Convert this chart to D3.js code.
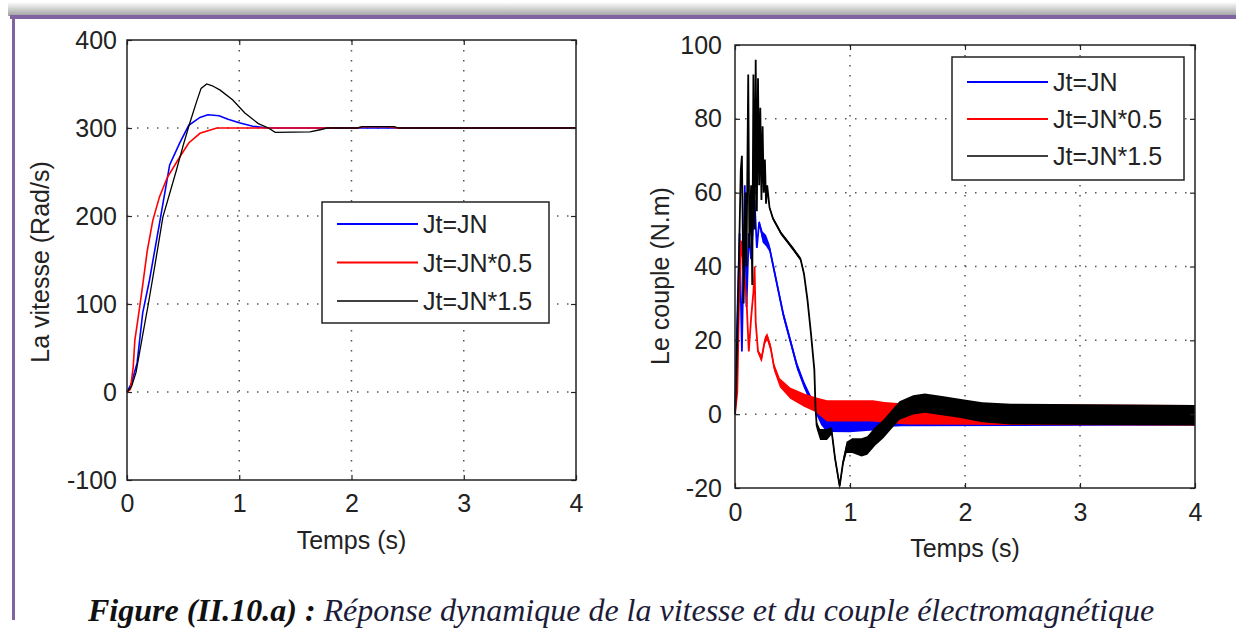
<!DOCTYPE html>
<html>
<head>
<meta charset="utf-8">
<script src="https://cdn.jsdelivr.net/npm/d3@7"></script>
<style>
  body { margin: 0; background: #fff; }
  svg { display: block; }
  text { font-family: "Liberation Sans", Arial, sans-serif; fill: #222; }
</style>
</head>
<body>
<div id="chart"></div>
<script>
// time axis shared by both panels
const timeTicks = [0, 1, 2, 3, 4];
const speedTicks = [-100, 0, 100, 200, 300, 400];
const torqueTicks = [-20, 0, 20, 40, 60, 80, 100];
const legendLabels = ["Jt=JN", "Jt=JN*0.5", "Jt=JN*1.5"];
const seriesColors = ["#0000ff", "#ff0000", "#000000"];

// speed (rad/s) vs time (s) - [t, v]
const speedJN = [[0,0],[0.04,10],[0.09,33],[0.14,90],[0.2,127],[0.29,192],[0.38,258],[0.47,283],
  [0.55,303],[0.65,312],[0.72,315],[0.82,314],[0.9,310],[1.0,306],[1.12,302],[1.25,300],[4,300]];
const speedJN05 = [[0,0],[0.03,3],[0.055,28],[0.07,59],[0.1,85],[0.13,112],[0.18,160],[0.23,195],
  [0.29,222],[0.36,244],[0.47,267],[0.55,283],[0.65,294],[0.8,300],[2.05,300],[2.1,301.5],
  [2.35,301.5],[2.4,300],[4,300]];
const speedJN15 = [[0,0],[0.04,6],[0.08,22],[0.14,65],[0.19,100],[0.25,145],[0.32,199],[0.44,252],
  [0.5,280],[0.56,306],[0.62,330],[0.66,345],[0.71,350],[0.76,348],[0.83,343],[0.94,332],
  [1.05,317],[1.17,305],[1.26,300],[1.32,295],[1.63,295.5],[1.72,298],[1.78,300],[2.05,300],
  [2.1,301.5],[2.38,301.5],[2.42,300],[4,300]];

// torque (N.m) vs time (s) - [t, mean, ripple half-band]
const torqueJN = [[0,0,0],[0.01,15,0],[0.04,49,0],[0.06,17,0],[0.085,62,0],[0.1,29,0],[0.12,49,0],
  [0.14,42,0],[0.17,58,0],[0.19,45,0],[0.21,52,0.5],[0.24,48,1.5],[0.27,47,1.5],[0.3,45,1],
  [0.36,36,1],[0.42,27,1],[0.48,20,1],[0.54,13,1],[0.6,8,1],[0.65,4.6,1],[0.7,1.5,1.2],
  [0.75,-1.5,1.5],[0.8,-3,1.8],[1.0,-3,1.9],[1.2,-2.6,1.8],[1.3,-1.5,2],[1.45,-0.5,2.8],[4,-0.3,2.8]];
const torqueJN05 = [[0,0,0],[0.02,6,0],[0.035,30,0],[0.055,47,0],[0.08,38,0],[0.1,31,0],[0.12,17,0],
  [0.14,26,0],[0.16,33,0],[0.17,40,0],[0.18,25,0],[0.2,17,0.5],[0.23,15,1],[0.26,20,1],[0.28,21,1],
  [0.31,18,1],[0.34,12.7,1],[0.39,8.5,1.2],[0.48,5.7,1.5],[0.6,3.8,1.8],[0.7,2.6,2],[0.8,0.9,2.9],
  [1.0,0.9,2.9],[1.2,0.9,2.9],[1.3,0.5,2.8],[1.5,0,2.8],[4,-0.3,2.8]];
const torqueJN15 = [[0,0,0],[0.01,8,0],[0.03,35,0],[0.05,66,0],[0.06,70,0],[0.075,30,0],[0.09,60,0],
  [0.1,40,0],[0.115,92,0],[0.125,45,0],[0.14,62,0],[0.15,35,0],[0.16,92,0],[0.17,50,0],[0.18,96,0],
  [0.19,55,0],[0.2,91,0],[0.21,62,0],[0.22,83,0],[0.23,58,0],[0.24,78,0],[0.25,60,0],[0.26,69,0],
  [0.27,57,0],[0.28,62,0],[0.3,56,0.5],[0.33,53,0.5],[0.4,49,0.5],[0.5,45,0.5],[0.57,42,0.5],
  [0.6,38,0.5],[0.63,31,0.5],[0.66,22,0.5],[0.69,12,0.5],[0.7,2,0.5],[0.71,-3,1],[0.74,-5.5,1.5],
  [0.8,-5.5,1.5],[0.84,-4.5,1],[0.87,-12,1],[0.91,-19.5,1],[0.94,-13,1],[0.97,-9,1.5],[1.02,-8.5,2],
  [1.1,-9,2.5],[1.15,-8.5,2.5],[1.22,-6,2.5],[1.29,-4,2.5],[1.36,-1.5,2.5],[1.43,1,2.5],
  [1.55,2.5,2.6],[1.65,3,2.6],[1.8,2.3,2.6],[1.95,1.6,2.6],[2.15,0.5,2.7],[2.4,0,2.8],[4,-0.3,2.8]];

const W = 1236, H = 630;
const svg = d3.select("#chart").append("svg").attr("width", W).attr("height", H);
const fmt = d => d < 0 ? "-" + Math.abs(d) : String(d);

// page frame: shadow + purple border lines
const defs = svg.append("defs");
const g1 = defs.append("linearGradient").attr("id", "shade").attr("x1", 0).attr("x2", 0).attr("y1", 0).attr("y2", 1);
g1.append("stop").attr("offset", "0%").attr("stop-color", "#fff");
g1.append("stop").attr("offset", "100%").attr("stop-color", "#a0a0a0");
svg.append("rect").attr("x", 8).attr("y", 2).attr("width", W - 8).attr("height", 14).attr("fill", "url(#shade)");
svg.append("rect").attr("x", 10).attr("y", 15).attr("width", W - 10).attr("height", 4).attr("fill", "#8064a2");
svg.append("rect").attr("x", 12).attr("y", 15).attr("width", 3).attr("height", 605).attr("fill", "#8064a2");

function panel(opt) {
  const x = d3.scaleLinear().domain([0, 4]).range([opt.left, opt.right]);
  const y = d3.scaleLinear().domain(opt.yDomain).range([opt.bottom, opt.top]);
  const g = svg.append("g");

  // dotted grid
  g.selectAll(".gx").data(timeTicks.slice(1, -1)).enter().append("line")
    .attr("x1", d => x(d)).attr("x2", d => x(d)).attr("y1", opt.top).attr("y2", opt.bottom)
    .attr("stroke", "#555").attr("stroke-width", 1.5).attr("stroke-dasharray", "1.5,8.5");
  g.selectAll(".gy").data(opt.yTicks.slice(1, -1)).enter().append("line")
    .attr("x1", opt.left).attr("x2", opt.right).attr("y1", d => y(d)).attr("y2", d => y(d))
    .attr("stroke", "#555").attr("stroke-width", 1.5).attr("stroke-dasharray", "1.5,8.5");

  // data
  opt.series.forEach((s, i) => {
    if (opt.band) {
      g.append("path").datum(s)
        .attr("d", d3.area().x(d => x(d[0])).y0(d => y(d[1] - d[2])).y1(d => y(d[1] + d[2]))(s))
        .attr("fill", seriesColors[i]);
    }
    g.append("path").datum(s)
      .attr("d", d3.line().x(d => x(d[0])).y(d => y(d[1]))(s))
      .attr("fill", "none").attr("stroke", seriesColors[i])
      .attr("stroke-width", opt.band ? 1.8 : (i === 2 ? 1.3 : 1.6));
  });

  // axes (MATLAB style: ticks inward on all sides)
  const ax = d3.axisBottom(x).tickValues(timeTicks).tickFormat(fmt)
    .tickSizeInner(-5).tickSizeOuter(0).tickPadding(opt.padX);
  const ay = d3.axisLeft(y).tickValues(opt.yTicks).tickFormat(fmt)
    .tickSizeInner(-5).tickSizeOuter(0).tickPadding(opt.padY);
  const gxA = g.append("g").attr("transform", `translate(0,${opt.bottom})`).call(ax);
  const gyA = g.append("g").attr("transform", `translate(${opt.left},0)`).call(ay);
  g.append("g").attr("transform", `translate(0,${opt.top})`)
    .call(d3.axisTop(x).tickValues(timeTicks).tickSizeInner(-5).tickSizeOuter(0).tickFormat(""));
  g.append("g").attr("transform", `translate(${opt.right},0)`)
    .call(d3.axisRight(y).tickValues(opt.yTicks).tickSizeInner(-5).tickSizeOuter(0).tickFormat(""));
  g.selectAll(".domain").remove();
  g.selectAll(".tick line").attr("stroke", "#222").attr("stroke-width", 1.2);
  gxA.selectAll("text").style("font-size", "25px").attr("fill", "#222");
  gyA.selectAll("text").style("font-size", "25px").attr("fill", "#222");
  g.append("rect").attr("x", opt.left).attr("y", opt.top)
    .attr("width", opt.right - opt.left).attr("height", opt.bottom - opt.top)
    .attr("fill", "none").attr("stroke", "#222").attr("stroke-width", 1.5);

  g.append("text").attr("x", (opt.left + opt.right) / 2).attr("y", opt.xLabelY)
    .attr("text-anchor", "middle").style("font-size", "25px").text("Temps (s)");
  g.append("text").attr("transform", `translate(${opt.yLabelX},${opt.yLabelMid}) rotate(-90)`)
    .attr("text-anchor", "middle").style("font-size", "25px").text(opt.yLabel);

  // legend
  const L = opt.legend;
  const lg = g.append("g");
  lg.append("rect").attr("x", L.x).attr("y", L.y).attr("width", L.w).attr("height", L.h)
    .attr("fill", "#fff").attr("stroke", "#222").attr("stroke-width", 1.5);
  legendLabels.forEach((lab, i) => {
    const yy = L.y + L.first + i * L.step;
    lg.append("line").attr("x1", L.x + 15).attr("x2", L.x + 96).attr("y1", yy).attr("y2", yy)
      .attr("stroke", seriesColors[i]).attr("stroke-width", i === 2 ? 1.5 : 2);
    lg.append("text").attr("x", L.x + 101).attr("y", yy + 9).style("font-size", "25px").text(lab);
  });
}

panel({
  left: 127, right: 576, top: 40, bottom: 480, yDomain: [-100, 400], yTicks: speedTicks,
  series: [speedJN, speedJN05, speedJN15], band: false, padX: 14, padY: 10,
  xLabelY: 549, yLabelX: 49, yLabelMid: 262, yLabel: "La vitesse (Rad/s)",
  legend: { x: 322, y: 202, w: 227, h: 121, first: 22, step: 38.5 }
});

panel({
  left: 735, right: 1195, top: 45, bottom: 488, yDomain: [-20, 100], yTicks: torqueTicks,
  series: [torqueJN, torqueJN05, torqueJN15], band: true, padX: 15, padY: 13,
  xLabelY: 557, yLabelX: 669, yLabelMid: 276, yLabel: "Le couple (N.m)",
  legend: { x: 952, y: 57, w: 232, h: 123, first: 25, step: 37 }
});

// caption
const cap = svg.append("text").attr("x", 88).attr("y", 621)
  .style("font-family", "'Liberation Serif', 'Times New Roman', serif")
  .style("font-size", "32px").style("font-style", "italic")
  .style("fill", "#1c1c38");
cap.append("tspan").style("font-weight", "bold").style("fill", "#111").text("Figure (II.10.a) :");
cap.append("tspan").text(" Réponse dynamique de la vitesse et du couple électromagnétique");
</script>
</body>
</html>
